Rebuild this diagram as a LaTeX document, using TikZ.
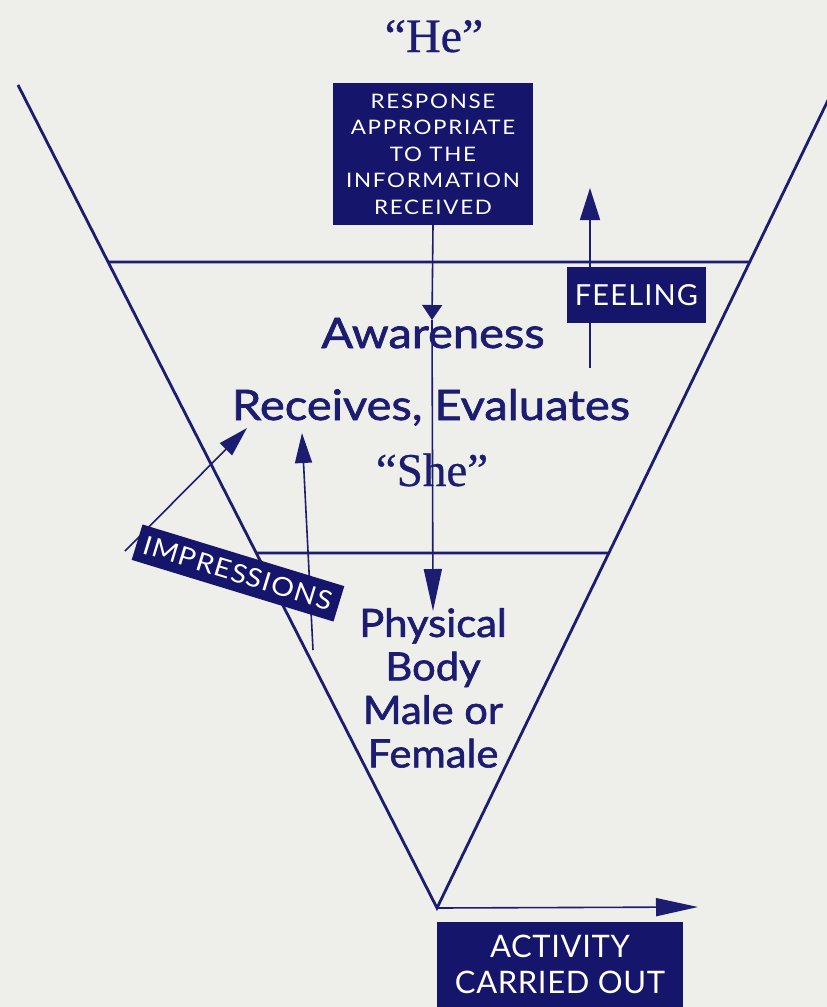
\documentclass[tikz,border=0pt]{standalone}
\usepackage{fontspec}
\setmainfont{Lato}
\newfontfamily\serifq[FakeBold=0.6]{Liberation Serif}
\newfontfamily\bigsans[FakeStretch=1.12,FakeBold=1.6]{Lato}
\newfontfamily\physsans[FakeStretch=1.07,FakeBold=1.6]{Lato}
\newfontfamily\respfont[FakeStretch=1.12,LetterSpace=8.5]{Lato}
\newfontfamily\impfont[FakeStretch=1.1,LetterSpace=4]{Lato}
\newfontfamily\feelfont[LetterSpace=4]{Lato}
\newfontfamily\actfont[LetterSpace=2]{Lato}
\usetikzlibrary{arrows.meta,calc}
\definecolor{ink}{HTML}{1C1C70}
\definecolor{boxfill}{HTML}{15156B}
\definecolor{paper}{HTML}{EEEEEB}
\begin{document}
\begin{tikzpicture}[x=1pt,y=-1pt,
  tri/.style={ink, line width=2.8pt},
  arrline/.style={ink, line width=1.6pt},
  headA/.style={-{Triangle[length=32pt,width=20pt]}},
  headB/.style={-{Triangle[length=15pt,width=20pt]}},
  headC/.style={-{Triangle[length=42pt,width=18pt]}},
  headD/.style={-{Triangle[length=30pt,width=17pt]}},
  darkbox/.style={fill=boxfill, text=white, inner sep=0pt, align=center},
  bigtext/.style={text=ink, inner sep=0pt},
]
\fill[paper] (0,0) rectangle (827,1007);
\useasboundingbox (0,0) rectangle (827,1007);

% triangle
\coordinate (TL) at (18,85);
\coordinate (TR) at (832,92);
\coordinate (B) at (437,908);
\coordinate (L1) at ($(TL)!0.2151!(B)$);
\coordinate (R1) at ($(TR)!0.2083!(B)$);
\coordinate (L2) at ($(TL)!0.5687!(B)$);
\coordinate (R2) at ($(TR)!0.5650!(B)$);
\draw[tri, line join=miter] (TL) -- (B) -- (TR);
\draw[tri] (L1) -- (R1);
\draw[tri] (L2) -- (R2);

% coordinates for arrows
\coordinate (m1) at (432,320);
\coordinate (m2) at (433,611);
\coordinate (f0) at (590,368);
\coordinate (f1) at (590,188);
\coordinate (i0) at (125,551);
\coordinate (i1) at (247,428);
\coordinate (j0) at (313,650);
\coordinate (j1) at (302,433);
\coordinate (a1) at (698,907);

% boxes
\node[darkbox, minimum width=200pt, minimum height=142pt,
      font=\respfont\fontsize{20}{26.5}\selectfont] (resp) at (433,154)
      {RESPONSE\\APPROPRIATE\\TO THE\\INFORMATION\\RECEIVED};

\draw[arrline, headB] (resp.south) -- (m1);
\draw[arrline, headC] (m1) -- (m2);
\draw[arrline, headA] (f0) -- (f1);
\draw[arrline, headD] (i0) -- (i1);
\draw[arrline, headD] (j0) -- (j1);
\draw[arrline, headC] (B) -- (a1);

\node[darkbox, minimum width=139pt, minimum height=56pt,
      font=\feelfont\fontsize{29}{32}\selectfont] (feel) at (636.5,295) {FEELING};
\node[darkbox, minimum width=211pt, minimum height=37pt, rotate=-17,
      font=\impfont\fontsize{26}{28}\selectfont] (imp) at (238,573) {IMPRESSIONS};
\node[darkbox, minimum width=246pt, minimum height=85pt,
      font=\actfont\fontsize{31}{36}\selectfont] (act) at (560,964.5) {ACTIVITY\\CARRIED OUT};

% texts
\node[bigtext, anchor=base, font=\serifq\fontsize{48}{50}\selectfont] (he) at (434,52) {“He”};
\node[bigtext, anchor=base, font=\bigsans\fontsize{42}{44}\selectfont] (aw) at (433,348) {Awareness};
\node[bigtext, anchor=base, font=\bigsans\fontsize{42}{44}\selectfont] (rec) at (431,420) {Receives, Evaluates};
\node[bigtext, anchor=base, font=\serifq\fontsize{47}{48}\selectfont] (she) at (432,486) {“She”};
\node[bigtext, anchor=north, align=center, font=\physsans\fontsize{39}{43.5}\selectfont] (phys) at (433,608)
      {Physical\\Body\\Male or\\Female};
\end{tikzpicture}
\end{document}
